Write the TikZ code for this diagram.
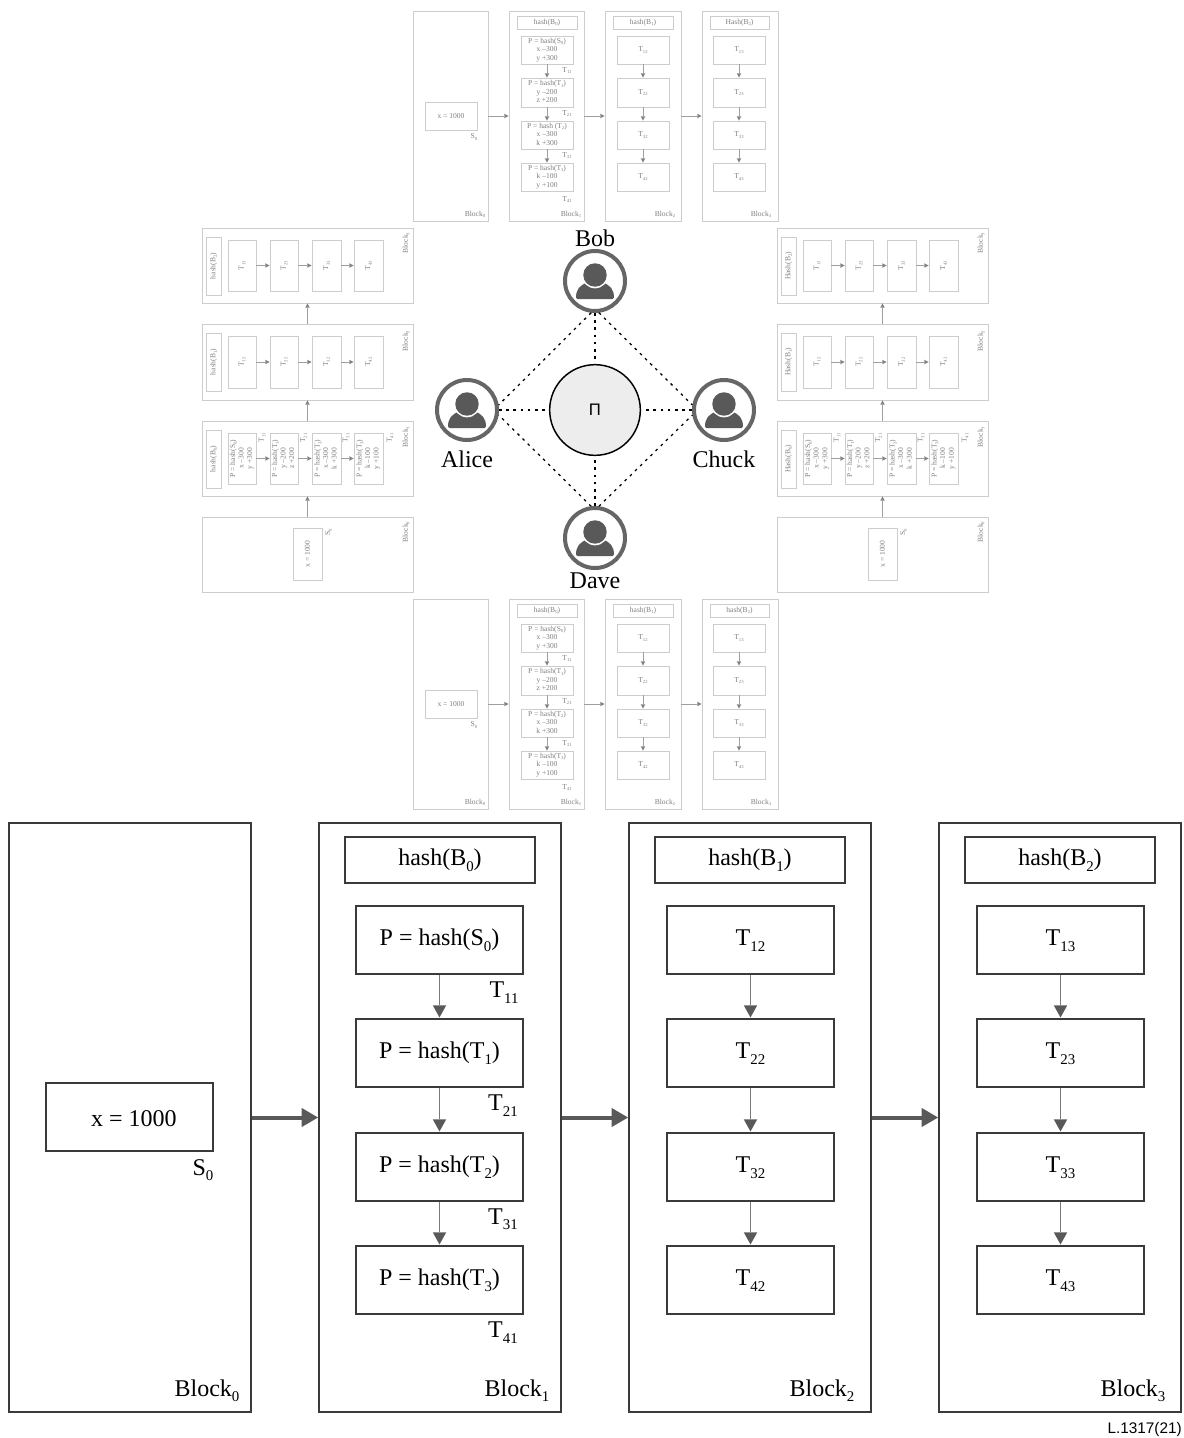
\documentclass[tikz,border=0pt]{standalone}
\usepackage{fontspec}
\setmainfont{Liberation Serif}
\newfontfamily\sansf{Liberation Sans}
\usetikzlibrary{arrows.meta}
\newcommand{\sbs}[1]{\raisebox{-0.22em}{\scalebox{0.62}{#1}}}
\newcommand{\threel}[3]{\begin{tabular}{@{}c@{}}#1\\#2\\#3\end{tabular}}
\newcommand{\rtl}[1]{\rotatebox{90}{#1}}
\newcommand{\bx}[7]{\node[#6,minimum width={(#4-(#2))*0.75pt},minimum height={(#5-(#3))*0.75pt}] (#1) at ({(#2+#4)/2},{(#3+#5)/2}) {#7};}
\newcommand{\lb}[5]{\node[#4] (#1) at (#2,#3) {#5};}
\definecolor{minigray}{HTML}{CDCDCD}
\definecolor{minitext}{HTML}{7E7E7E}
\definecolor{arr}{HTML}{595959}
\definecolor{arrlight}{HTML}{7A7A7A}
\definecolor{icon}{HTML}{595959}
\definecolor{ring}{HTML}{666666}
\definecolor{bigline}{HTML}{3A3A3A}
\tikzset{
  x=0.75pt,y=-0.75pt,
  bigbox/.style={draw=bigline,line width=1.1pt,inner sep=0pt,font=\fontsize{18}{21}\selectfont,text height=13pt,text depth=4.2pt},
  miniblock/.style={draw=minigray,line width=0.7pt,inner sep=0pt,text=minitext,font=\fontsize{5.65}{6.4}\selectfont},
  bigtext/.style={inner sep=0pt,font=\fontsize{18}{21}\selectfont},
  minitxt/.style={inner sep=0pt,text=minitext,font=\fontsize{5.65}{6.4}\selectfont},
  minirot/.style={minitxt,rotate=90},
  thickarr/.style={draw=arr,line width=3pt,-{Triangle[length=12.5pt,width=13.5pt]}},
  smallarr/.style={draw=arrlight,line width=1.1pt,shorten >=0.6pt,-{Triangle[length=9pt,width=10pt,color=arr,fill=arr,line width=0pt]}},
  miniarr/.style={draw=gray!75,line width=0.6pt,-{Triangle[length=3.2pt,width=3.4pt,color=gray,fill=gray,line width=0pt]}},
  usr/.style={circle,draw=ring,line width=3pt,minimum size=45pt,inner sep=0pt},
  link/.style={draw=black,line width=0.95pt,dash pattern=on 2pt off 3.4pt},
  linkpi/.style={link,shorten >=2.5pt},
  person/.pic={
    \fill[icon,rounded corners=1pt] (-19,18) -- (19,18) .. controls (19,8) and (15,4) .. (6,1) -- (-6,1) .. controls (-15,4) and (-19,8) .. (-19,18) -- cycle;
    \fill[white] (0,-6) circle[radius=10pt];
    \fill[icon] (0,-6) circle[radius=8.8pt];
  }
}
% vertical chain (top and bottom panels): prefix, dy, text of P line T2, hash word of block 3
\newcommand{\topcol}[4]{%
\begin{scope}[yshift={-(#2)*0.75pt}]
\bx{#1b0}{413}{11}{488}{221}{miniblock}{}
\bx{#1b1}{509}{11}{584}{221}{miniblock}{}
\bx{#1b2}{605}{11}{681}{221}{miniblock}{}
\bx{#1b3}{702}{11}{778}{221}{miniblock}{}
\bx{#1s}{425}{102}{477}{130}{miniblock}{x = 1000}
\bx{#1h1}{517}{16}{577}{29}{miniblock}{hash(B\sbs{0})}
\bx{#1h2}{613}{16}{673}{29}{miniblock}{hash(B\sbs{1})}
\bx{#1h3}{710}{16}{769}{29}{miniblock}{#4(B\sbs{2})}
\bx{#1a1}{521}{36}{573}{64}{miniblock}{\threel{P = hash(S\sbs{0})}{x –300}{y +300}}
\bx{#1a2}{521}{78}{573}{107}{miniblock}{\threel{P = hash(T\sbs{1})}{y –200}{z +200}}
\bx{#1a3}{521}{121}{573}{149}{miniblock}{\threel{#3}{x –300}{k +300}}
\bx{#1a4}{521}{163}{573}{191}{miniblock}{\threel{P = hash(T\sbs{3})}{k –100}{y +100}}
\bx{#1c1}{617}{36}{669}{64}{miniblock}{T\sbs{12}}
\bx{#1c2}{617}{78}{669}{107}{miniblock}{T\sbs{22}}
\bx{#1c3}{617}{121}{669}{149}{miniblock}{T\sbs{32}}
\bx{#1c4}{617}{163}{669}{191}{miniblock}{T\sbs{42}}
\bx{#1d1}{713}{36}{765}{64}{miniblock}{T\sbs{13}}
\bx{#1d2}{713}{78}{765}{107}{miniblock}{T\sbs{23}}
\bx{#1d3}{713}{121}{765}{149}{miniblock}{T\sbs{33}}
\bx{#1d4}{713}{163}{765}{191}{miniblock}{T\sbs{43}}
\lb{#1ls}{474}{137}{minitxt}{S\sbs{0}}
\lb{#1lt1}{567}{70.5}{minitxt}{T\sbs{11}}
\lb{#1lt2}{567}{113.5}{minitxt}{T\sbs{21}}
\lb{#1lt3}{567}{155.5}{minitxt}{T\sbs{31}}
\lb{#1lt4}{567}{199.5}{minitxt}{T\sbs{41}}
\lb{#1l0}{475}{214.5}{minitxt}{Block\sbs{0}}
\lb{#1l1}{571}{214.5}{minitxt}{Block\sbs{1}}
\lb{#1l2}{665}{214.5}{minitxt}{Block\sbs{2}}
\lb{#1l3}{761}{214.5}{minitxt}{Block\sbs{3}}
\draw[miniarr] (#1b0) -- (#1b1);
\draw[miniarr] (#1b1) -- (#1b2);
\draw[miniarr] (#1b2) -- (#1b3);
\foreach \c in {a,c,d}{
\draw[miniarr] (#1\c1) -- (#1\c2);
\draw[miniarr] (#1\c2) -- (#1\c3);
\draw[miniarr] (#1\c3) -- (#1\c4);
}
\end{scope}}
% horizontal chain (left and right panels): prefix, dx, hash word
\newcommand{\sidecol}[3]{%
\begin{scope}[xshift={(#2)*0.75pt}]
\bx{#1b0}{202}{517}{413}{592}{miniblock}{}
\bx{#1b1}{202}{421}{413}{496}{miniblock}{}
\bx{#1b2}{202}{324}{413}{400}{miniblock}{}
\bx{#1b3}{202}{228}{413}{303}{miniblock}{}
\bx{#1s}{293}{528}{322}{580}{miniblock}{\rtl{x = 1000}}
\bx{#1h1}{206}{430}{221}{488}{miniblock}{\rtl{#3(B\sbs{0})}}
\bx{#1h2}{206}{333}{221}{391}{miniblock}{\rtl{#3(B\sbs{1})}}
\bx{#1h3}{206}{237}{221}{295}{miniblock}{\rtl{#3(B\sbs{2})}}
\bx{#1a1}{228}{433}{256}{484}{miniblock}{\rtl{\threel{P = hash(S\sbs{0})}{x –300}{y +300}}}
\bx{#1a2}{270}{433}{298}{484}{miniblock}{\rtl{\threel{P = hash(T\sbs{1})}{y –200}{z +200}}}
\bx{#1a3}{312}{433}{341}{484}{miniblock}{\rtl{\threel{P = hash(T\sbs{2})}{x –300}{k +300}}}
\bx{#1a4}{354}{433}{383}{484}{miniblock}{\rtl{\threel{P = hash(T\sbs{3})}{k –100}{y +100}}}
\bx{#1c1}{228}{336}{256}{388}{miniblock}{\rtl{T\sbs{12}}}
\bx{#1c2}{270}{336}{298}{388}{miniblock}{\rtl{T\sbs{22}}}
\bx{#1c3}{312}{336}{341}{388}{miniblock}{\rtl{T\sbs{32}}}
\bx{#1c4}{354}{336}{383}{388}{miniblock}{\rtl{T\sbs{42}}}
\bx{#1d1}{228}{240}{256}{291}{miniblock}{\rtl{T\sbs{13}}}
\bx{#1d2}{270}{240}{298}{291}{miniblock}{\rtl{T\sbs{23}}}
\bx{#1d3}{312}{240}{341}{291}{miniblock}{\rtl{T\sbs{33}}}
\bx{#1d4}{354}{240}{383}{291}{miniblock}{\rtl{T\sbs{43}}}
\lb{#1ls}{328.5}{532}{minirot}{S\sbs{0}}
\lb{#1lt1}{262}{438}{minirot}{T\sbs{11}}
\lb{#1lt2}{303.5}{438}{minirot}{T\sbs{21}}
\lb{#1lt3}{346}{438}{minirot}{T\sbs{31}}
\lb{#1lt4}{390}{438}{minirot}{T\sbs{41}}
\lb{#1l0}{406}{532}{minirot}{Block\sbs{0}}
\lb{#1l1}{406}{437}{minirot}{Block\sbs{1}}
\lb{#1l2}{406}{341}{minirot}{Block\sbs{2}}
\lb{#1l3}{406}{243}{minirot}{Block\sbs{3}}
\draw[miniarr] (#1b0) -- (#1b1);
\draw[miniarr] (#1b1) -- (#1b2);
\draw[miniarr] (#1b2) -- (#1b3);
\foreach \c in {a,c,d}{
\draw[miniarr] (#1\c1) -- (#1\c2);
\draw[miniarr] (#1\c2) -- (#1\c3);
\draw[miniarr] (#1\c3) -- (#1\c4);
}
\end{scope}}
\begin{document}
\begin{tikzpicture}
\useasboundingbox (0,0) rectangle (1184,1438);
\topcol{t}{0}{P = hash (T\sbs{2})}{Hash}
\topcol{u}{588}{P = hash(T\sbs{2})}{hash}
\sidecol{l}{0}{hash}
\sidecol{r}{575}{Hash}
% centre
\node[circle,draw=black,line width=1.1pt,fill=black!7,minimum size=68pt,inner sep=0pt,font=\sansf\fontsize{12.5}{14}\selectfont] (pi) at (595,410) {Π};
\node[usr] (bob) at (595,281) {};
\node[usr] (alice) at (467,410) {};
\node[usr] (chuck) at (724,410) {};
\node[usr] (dave) at (595,538) {};
\pic at (bob) {person};
\pic at (alice) {person};
\pic at (chuck) {person};
\pic at (dave) {person};
\lb{bobl}{595}{238}{bigtext}{Bob}
\lb{alicel}{467}{459}{bigtext}{Alice}
\lb{chuckl}{724}{459}{bigtext}{Chuck}
\lb{davel}{595}{581}{bigtext}{Dave}
\draw[link] (bob.263) -- (alice.9);
\draw[link] (bob.277) -- (chuck.171);
\draw[link] (dave.97) -- (alice.351);
\draw[link] (dave.83) -- (chuck.189);
\draw[linkpi] (bob.south) -- (pi.north);
\draw[linkpi] (dave.north) -- (pi.south);
\draw[linkpi] (alice.east) -- (pi.west);
\draw[linkpi] (chuck.west) -- (pi.east);
% main panel
\bx{B0}{9}{823}{251}{1412}{bigbox}{}
\bx{B1}{319}{823}{561}{1412}{bigbox}{}
\bx{B2}{629}{823}{871}{1412}{bigbox}{}
\bx{B3}{939}{823}{1181}{1412}{bigbox}{}
\bx{S}{46}{1083}{213}{1151}{bigbox,text height=14.5pt,text depth=0pt}{\hspace*{6.5pt}x = 1000}
\bx{H1}{345}{837}{535}{883}{bigbox}{hash(B\sbs{0})}
\bx{H2}{655}{837}{845}{883}{bigbox}{hash(B\sbs{1})}
\bx{H3}{965}{837}{1155}{883}{bigbox}{hash(B\sbs{2})}
\bx{A1}{356}{906}{523}{974}{bigbox}{P = hash(S\sbs{0})}
\bx{A2}{356}{1019}{523}{1087}{bigbox}{P = hash(T\sbs{1})}
\bx{A3}{356}{1133}{523}{1201}{bigbox}{P = hash(T\sbs{2})}
\bx{A4}{356}{1246}{523}{1314}{bigbox}{P = hash(T\sbs{3})}
\bx{C1}{667}{906}{834}{974}{bigbox}{T\sbs{12}}
\bx{C2}{667}{1019}{834}{1087}{bigbox}{T\sbs{22}}
\bx{C3}{667}{1133}{834}{1201}{bigbox}{T\sbs{32}}
\bx{C4}{667}{1246}{834}{1314}{bigbox}{T\sbs{42}}
\bx{D1}{977}{906}{1144}{974}{bigbox}{T\sbs{13}}
\bx{D2}{977}{1019}{1144}{1087}{bigbox}{T\sbs{23}}
\bx{D3}{977}{1133}{1144}{1201}{bigbox}{T\sbs{33}}
\bx{D4}{977}{1246}{1144}{1314}{bigbox}{T\sbs{43}}
\lb{LS}{203}{1170}{bigtext}{S\sbs{0}}
\lb{L11}{504}{992.5}{bigtext}{T\sbs{11}}
\lb{L21}{503}{1105.5}{bigtext}{T\sbs{21}}
\lb{L31}{503}{1219.5}{bigtext}{T\sbs{31}}
\lb{L41}{503}{1332.5}{bigtext}{T\sbs{41}}
\lb{LB0}{207}{1390.5}{bigtext}{Block\sbs{0}}
\lb{LB1}{517}{1390.5}{bigtext}{Block\sbs{1}}
\lb{LB2}{822}{1390.5}{bigtext}{Block\sbs{2}}
\lb{LB3}{1133}{1390.5}{bigtext}{Block\sbs{3}}
\node[inner sep=0pt,anchor=east,font=\sansf\fontsize{11.5}{13}\selectfont] (ref) at (1182,1430) {L.1317(21)};
\draw[thickarr] (B0) -- (B1);
\draw[thickarr] (B1) -- (B2);
\draw[thickarr] (B2) -- (B3);
\foreach \c in {A,C,D}{
\draw[smallarr] (\c1) -- (\c2);
\draw[smallarr] (\c2) -- (\c3);
\draw[smallarr] (\c3) -- (\c4);
}
\end{tikzpicture}
\end{document}
